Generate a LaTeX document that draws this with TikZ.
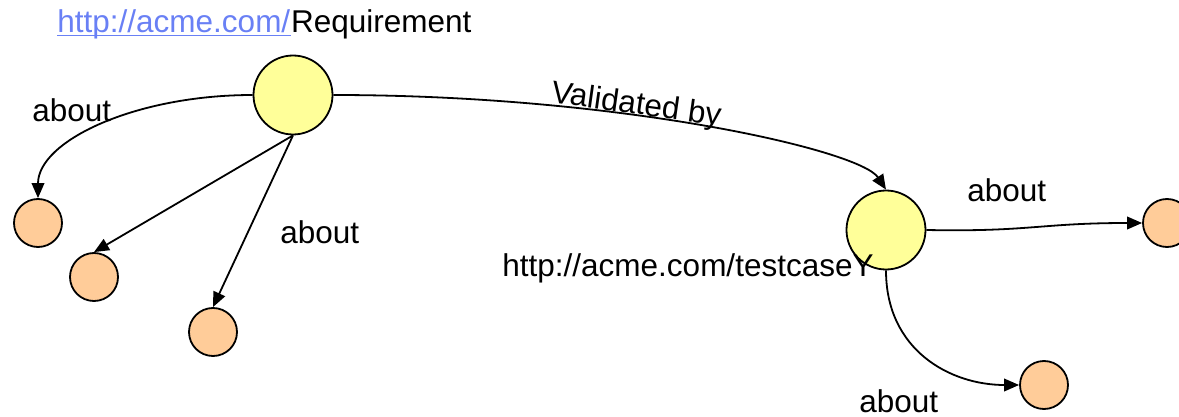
\documentclass[tikz,border=0pt]{standalone}
\usepackage{fontspec}
\setmainfont{Liberation Sans}
\usetikzlibrary{arrows.meta}
\definecolor{linkblue}{RGB}{105,128,245}
\definecolor{resyellow}{RGB}{255,255,153}
\definecolor{litorange}{RGB}{255,204,153}
\begin{document}
\begin{tikzpicture}[x=0.5pt,y=-0.5pt,
  every node/.style={font=\fontsize{15.75pt}{18pt}\selectfont},
  resource/.style={circle,draw=black,line width=0.9pt,fill=resyellow,minimum size=39.5pt,inner sep=0pt},
  literal/.style={circle,draw=black,line width=0.9pt,fill=litorange,minimum size=24pt,inner sep=0pt},
  lbl/.style={anchor=base west,inner sep=0pt},
  arr/.style={line width=0.9pt,-{Triangle[length=7.5pt,width=6.3pt]}}]
\useasboundingbox (0,0) rectangle (1179,417);

% resources
\node[resource] (req) at (293,95) {};
\node[resource] (tc)  at (886,230) {};

% literal values
\node[literal] (a1) at (38,223) {};
\node[literal] (a2) at (94,277) {};
\node[literal] (a3) at (213,332) {};
\node[literal] (a4) at (1167,223) {};
\node[literal] (a5) at (1044,385) {};

% properties
\draw[arr] (req.west) .. controls (135,95) and (38,141) .. (a1.north);
\draw[arr] (req.south) -- (a2.north);
\draw[arr] (req.south) -- (a3.north);
\draw[arr] (req.east) .. controls (620,95) and (860,150) .. (tc.north);
\draw[arr] (tc.east) .. controls (1030,232) and (1040,223) .. (a4.west);
\draw[arr] (tc.south) .. controls (886,350) and (950,385) .. (a5.west);

% resource names
\node[lbl,text=linkblue] (lnk) at (57,33) {http://acme.com/};
\node[lbl] (reqname) at (lnk.base east) {Requirement};
\draw[linkblue,line width=0.6pt] ([yshift=-1.3pt]lnk.base west) -- ([yshift=-1.3pt]lnk.base east);
\node[lbl] (tcname) at (502,277) {http://acme.com/testcaseY};

% property labels
\node[lbl] (l1) at (32,122) {about};
\node[lbl] (l2) at (280,243) {about};
\node[lbl,rotate=-8] (l3) at (550,102) {Validated by};
\node[lbl] (l4) at (967,202) {about};
\node[lbl] (l5) at (859,412) {about};
\end{tikzpicture}
\end{document}
